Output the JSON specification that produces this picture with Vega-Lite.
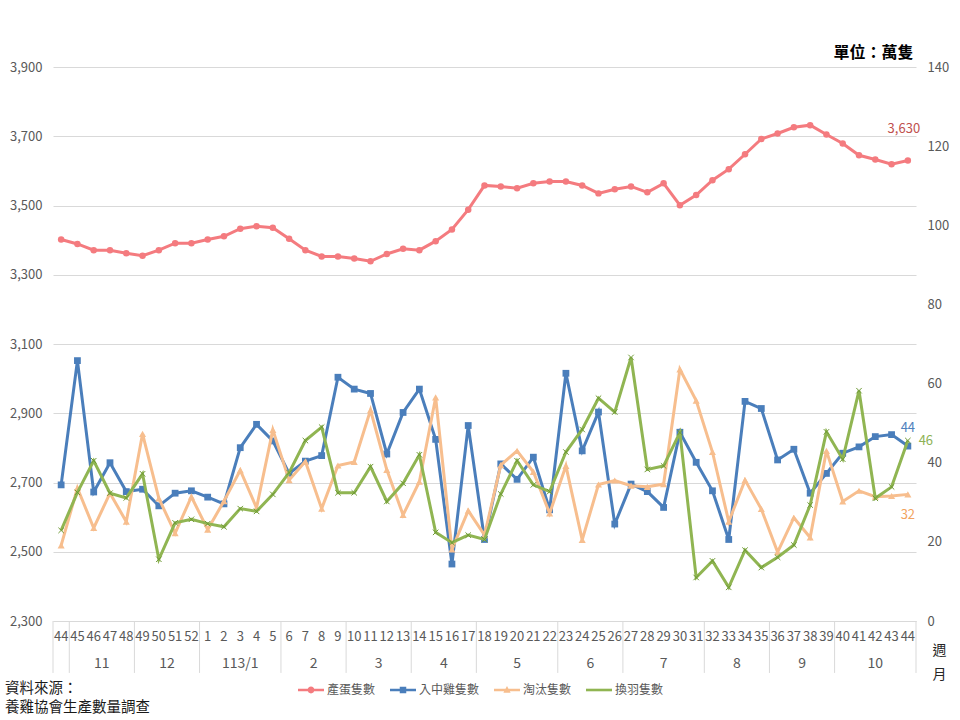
{
 "$schema": "https://vega.github.io/schema/vega-lite/v6.json",
 "width": 863,
 "height": 554,
 "autosize": {"type": "none"},
 "padding": {"left": 53, "top": 67, "right": 44, "bottom": 99},
 "background": "white",
 "config": {"view": {"stroke": null}, "font": "Noto Sans CJK TC"},
 "title": {"text": ["資料來源：", "養雞協會生產數量調查"], "orient": "bottom", "anchor": "start", "frame": "group", "fontSize": 14.5, "fontWeight": "normal", "color": "#1a1a1a", "font": "Noto Sans CJK TC", "lineHeight": 19, "dx": -48, "offset": -14},
 "datasets": {
  "main": [
   {"k":"112/44","egg":3402,"chick":34.4,"cull":19.1,"molt":22.9},
   {"k":"112/45","egg":3389,"chick":65.8,"cull":33.6,"molt":32.5},
   {"k":"112/46","egg":3371,"chick":32.6,"cull":23.5,"molt":40.5},
   {"k":"112/47","egg":3371,"chick":40.0,"cull":32.3,"molt":32.3},
   {"k":"112/48","egg":3362,"chick":32.7,"cull":25.1,"molt":31.1},
   {"k":"112/49","egg":3355,"chick":33.3,"cull":47.3,"molt":37.2},
   {"k":"112/50","egg":3371,"chick":29.1,"cull":31.0,"molt":15.6},
   {"k":"112/51","egg":3391,"chick":32.3,"cull":22.2,"molt":24.8},
   {"k":"112/52","egg":3391,"chick":32.9,"cull":31.4,"molt":25.7},
   {"k":"113/01","egg":3402,"chick":31.3,"cull":23.1,"molt":24.6},
   {"k":"113/02","egg":3411,"chick":29.6,"cull":30.3,"molt":23.8},
   {"k":"113/03","egg":3433,"chick":43.8,"cull":38.1,"molt":28.4},
   {"k":"113/04","egg":3440,"chick":49.7,"cull":28.6,"molt":27.7},
   {"k":"113/05","egg":3436,"chick":45.5,"cull":48.3,"molt":32.0},
   {"k":"113/06","egg":3404,"chick":37.3,"cull":35.6,"molt":37.5},
   {"k":"113/07","egg":3371,"chick":40.4,"cull":40.3,"molt":45.6},
   {"k":"113/08","egg":3353,"chick":41.8,"cull":28.4,"molt":49.0},
   {"k":"113/09","egg":3353,"chick":61.6,"cull":39.3,"molt":32.4},
   {"k":"113/10","egg":3347,"chick":58.6,"cull":40.2,"molt":32.4},
   {"k":"113/11","egg":3339,"chick":57.5,"cull":53.3,"molt":39.0},
   {"k":"113/12","egg":3360,"chick":42.2,"cull":38.2,"molt":30.2},
   {"k":"113/13","egg":3375,"chick":52.7,"cull":26.8,"molt":34.8},
   {"k":"113/14","egg":3371,"chick":58.6,"cull":35.2,"molt":42.0},
   {"k":"113/15","egg":3397,"chick":45.9,"cull":56.5,"molt":22.4},
   {"k":"113/16","egg":3431,"chick":14.4,"cull":18.1,"molt":19.8},
   {"k":"113/17","egg":3488,"chick":49.4,"cull":27.9,"molt":21.7},
   {"k":"113/18","egg":3558,"chick":20.6,"cull":21.7,"molt":20.6},
   {"k":"113/19","egg":3555,"chick":39.7,"cull":39.4,"molt":32.1},
   {"k":"113/20","egg":3550,"chick":35.8,"cull":43.0,"molt":40.5},
   {"k":"113/21","egg":3564,"chick":41.4,"cull":37.7,"molt":34.4},
   {"k":"113/22","egg":3569,"chick":28.1,"cull":27.2,"molt":32.7},
   {"k":"113/23","egg":3569,"chick":62.6,"cull":39.2,"molt":42.7},
   {"k":"113/24","egg":3558,"chick":43.0,"cull":20.5,"molt":48.4},
   {"k":"113/25","egg":3535,"chick":52.8,"cull":34.5,"molt":56.3},
   {"k":"113/26","egg":3547,"chick":24.5,"cull":35.5,"molt":52.8},
   {"k":"113/27","egg":3555,"chick":34.6,"cull":34.2,"molt":66.6},
   {"k":"113/28","egg":3538,"chick":32.7,"cull":33.9,"molt":38.3},
   {"k":"113/29","egg":3564,"chick":28.7,"cull":34.6,"molt":39.2},
   {"k":"113/30","egg":3501,"chick":47.7,"cull":63.6,"molt":47.6},
   {"k":"113/31","egg":3530,"chick":40.1,"cull":55.7,"molt":11.0},
   {"k":"113/32","egg":3573,"chick":32.9,"cull":42.7,"molt":15.2},
   {"k":"113/33","egg":3605,"chick":20.6,"cull":25.1,"molt":8.5},
   {"k":"113/34","egg":3648,"chick":55.5,"cull":35.6,"molt":17.9},
   {"k":"113/35","egg":3692,"chick":53.7,"cull":28.3,"molt":13.5},
   {"k":"113/36","egg":3708,"chick":40.7,"cull":17.4,"molt":16.1},
   {"k":"113/37","egg":3726,"chick":43.4,"cull":26.1,"molt":19.2},
   {"k":"113/38","egg":3732,"chick":32.3,"cull":21.1,"molt":29.3},
   {"k":"113/39","egg":3705,"chick":37.3,"cull":43.0,"molt":47.8},
   {"k":"113/40","egg":3679,"chick":42.4,"cull":30.2,"molt":40.9},
   {"k":"113/41","egg":3645,"chick":44.0,"cull":32.9,"molt":58.2},
   {"k":"113/42","egg":3633,"chick":46.6,"cull":31.4,"molt":31.0},
   {"k":"113/43","egg":3619,"chick":47.1,"cull":31.6,"molt":33.9},
   {"k":"113/44","egg":3630,"chick":44.2,"cull":32.0,"molt":45.6}
  ],
  "seps": [
   {"k":"112/44","side":"s"},{"k":"112/45","side":"s"},{"k":"112/49","side":"s"},{"k":"113/01","side":"s"},
   {"k":"113/06","side":"s"},{"k":"113/10","side":"s"},{"k":"113/14","side":"s"},{"k":"113/18","side":"s"},
   {"k":"113/23","side":"s"},{"k":"113/27","side":"s"},{"k":"113/32","side":"s"},{"k":"113/36","side":"s"},
   {"k":"113/40","side":"s"},{"k":"113/44","side":"e"}
  ],
  "months": [
   {"k":"112/47","label":"11","weeks":4},{"k":"112/51","label":"12","weeks":4},
   {"k":"113/03","label":"113/1","weeks":5},{"k":"113/08","label":"2","weeks":4},
   {"k":"113/12","label":"3","weeks":4},{"k":"113/16","label":"4","weeks":4},
   {"k":"113/20","label":"5","weeks":5},{"k":"113/25","label":"6","weeks":4},
   {"k":"113/29","label":"7","weeks":5},{"k":"113/34","label":"8","weeks":4},
   {"k":"113/38","label":"9","weeks":4},{"k":"113/42","label":"10","weeks":5}
  ]
 },
 "data": {"name": "main"},
 "resolve": {"scale": {"y": "independent"}},
 "layer": [
  {
   "layer": [
    {
     "mark": {"type": "line", "strokeWidth": 3},
     "encoding": {
      "x": {"field": "k", "type": "ordinal", "bandPosition": 0.5, "scale": {"type": "band", "paddingInner": 0, "paddingOuter": 0},
       "axis": {"title": ["週", "月"], "titleX": 886, "titleY": 22, "titleAngle": 0, "titleAlign": "center", "titleBaseline": "top", "titleFontSize": 14, "titleFontWeight": "normal", "titleColor": "#262626", "titleLineHeight": 24, "titleFont": "Noto Sans CJK TC",
        "labelExpr": "'' + toNumber(split(datum.value, '/')[1])", "labelAngle": 0, "labelFontSize": 13, "labelColor": "#595959", "labelPadding": 9, "labelFont": "Noto Sans CJK TC",
        "ticks": false, "domain": true, "domainColor": "#d9d9d9", "grid": false, "labelOverlap": false, "labelBound": false, "orient": "bottom"}},
      "y": {"field": "egg", "type": "quantitative", "scale": {"domain": [2300, 3900], "nice": false, "zero": false},
       "axis": {"orient": "left", "values": [2300, 2500, 2700, 2900, 3100, 3300, 3500, 3700, 3900], "labelExpr": "format(datum.value, ',')", "grid": true, "gridColor": "#d9d9d9", "ticks": false, "domain": false, "labelFontSize": 13, "labelColor": "#595959", "labelPadding": 11, "labelFont": "Noto Sans CJK TC", "title": null}},
      "color": {"datum": "產蛋隻數", "type": "nominal",
       "scale": {"domain": ["產蛋隻數", "入中雞隻數", "淘汰隻數", "換羽隻數"], "range": ["#F47B7F", "#4A7EBB", "#F7BE8E", "#90B552"]},
       "legend": {"orient": "none", "legendX": 245, "legendY": 610, "direction": "horizontal", "title": null, "symbolSize": 676,
        "labelFontSize": 12, "labelColor": "#595959", "labelOffset": 3, "columnPadding": 14, "labelFont": "Noto Sans CJK TC", "padding": 0,
        "encode": {"symbols": {"update": {
         "shape": {"signal": "datum.value === '產蛋隻數' ? 'M-1,-0.1L1,-0.1L1,0.1L-1,0.1Z M0.26,0A0.26,0.26 0 1,1 -0.26,0A0.26,0.26 0 1,1 0.26,0Z' : datum.value === '入中雞隻數' ? 'M-1,-0.1L1,-0.1L1,0.1L-1,0.1Z M-0.25,-0.25L0.25,-0.25L0.25,0.25L-0.25,0.25Z' : datum.value === '淘汰隻數' ? 'M-1,-0.1L1,-0.1L1,0.1L-1,0.1Z M0,-0.3L0.28,0.22L-0.28,0.22Z' : 'M-1,-0.1L1,-0.1L1,0.1L-1,0.1Z'"},
         "fill": {"scale": "color", "field": "value"},
         "strokeWidth": {"value": 0},
         "opacity": {"value": 1},
         "fillOpacity": {"value": 1}
        }}}
       }}
     }
    },
    {
     "data": {"name": "seps"},
     "transform": [{"filter": "datum.side == 's'"}],
     "mark": {"type": "rule", "color": "#d9d9d9", "strokeWidth": 1},
     "encoding": {
      "x": {"field": "k", "type": "ordinal", "bandPosition": 0, "scale": {"type": "band", "paddingInner": 0, "paddingOuter": 0}},
      "y": {"datum": 2300, "type": "quantitative", "scale": {"domain": [2300, 3900], "nice": false, "zero": false}},
      "y2": {"datum": 2150}
     }
    },
    {
     "data": {"name": "seps"},
     "transform": [{"filter": "datum.side == 'e'"}],
     "mark": {"type": "rule", "color": "#d9d9d9", "strokeWidth": 1},
     "encoding": {
      "x": {"field": "k", "type": "ordinal", "bandPosition": 1, "scale": {"type": "band", "paddingInner": 0, "paddingOuter": 0}},
      "y": {"datum": 2300, "type": "quantitative", "scale": {"domain": [2300, 3900], "nice": false, "zero": false}},
      "y2": {"datum": 2150}
     }
    },
    {
     "data": {"name": "months"},
     "transform": [{"filter": "datum.weeks == 4"}],
     "mark": {"type": "text", "fontSize": 14, "color": "#595959", "baseline": "middle", "align": "center"},
     "encoding": {
      "x": {"field": "k", "type": "ordinal", "bandPosition": 0, "scale": {"type": "band", "paddingInner": 0, "paddingOuter": 0}},
      "y": {"datum": 2176, "type": "quantitative", "scale": {"domain": [2300, 3900], "nice": false, "zero": false}},
      "text": {"field": "label"}
     }
    },
    {
     "data": {"name": "months"},
     "transform": [{"filter": "datum.weeks == 5"}],
     "mark": {"type": "text", "fontSize": 14, "color": "#595959", "baseline": "middle", "align": "center"},
     "encoding": {
      "x": {"field": "k", "type": "ordinal", "bandPosition": 0.5, "scale": {"type": "band", "paddingInner": 0, "paddingOuter": 0}},
      "y": {"datum": 2176, "type": "quantitative", "scale": {"domain": [2300, 3900], "nice": false, "zero": false}},
      "text": {"field": "label"}
     }
    },
    {
     "mark": {"type": "point", "shape": "circle", "filled": true, "size": 42, "opacity": 1, "color": "#F47B7F"},
     "encoding": {
      "x": {"field": "k", "type": "ordinal", "bandPosition": 0.5, "scale": {"type": "band", "paddingInner": 0, "paddingOuter": 0}},
      "y": {"field": "egg", "type": "quantitative", "scale": {"domain": [2300, 3900], "nice": false, "zero": false}}
     }
    },
    {
     "transform": [{"filter": "datum.k == '113/44'"}],
     "mark": {"type": "text", "color": "#C0504D", "fontSize": 13, "dx": -4, "dy": -31, "align": "center", "baseline": "middle"},
     "encoding": {
      "x": {"field": "k", "type": "ordinal", "bandPosition": 0.5, "scale": {"type": "band", "paddingInner": 0, "paddingOuter": 0}},
      "y": {"field": "egg", "type": "quantitative", "scale": {"domain": [2300, 3900], "nice": false, "zero": false}},
      "text": {"field": "egg", "format": ","}
     }
    }
   ]
  },
  {
   "layer": [
    {
     "mark": {"type": "line", "strokeWidth": 3},
     "encoding": {
      "x": {"field": "k", "type": "ordinal", "bandPosition": 0.5, "scale": {"type": "band", "paddingInner": 0, "paddingOuter": 0}},
      "y": {"field": "chick", "type": "quantitative", "scale": {"domain": [0, 140], "nice": false, "zero": true},
       "axis": {"orient": "right", "values": [0, 20, 40, 60, 80, 100, 120, 140], "labelExpr": "format(datum.value, 'd')", "grid": false, "ticks": false, "domain": false, "labelFontSize": 13, "labelColor": "#595959", "labelPadding": 11, "labelFont": "Noto Sans CJK TC",
        "title": "單位：萬隻", "titleAngle": 0, "titleX": -43, "titleY": -15, "titleAlign": "center", "titleBaseline": "middle", "titleFontSize": 16, "titleFontWeight": "bold", "titleColor": "#000000", "titleFont": "Noto Sans CJK TC"}},
      "color": {"datum": "入中雞隻數", "type": "nominal"}
     }
    },
    {
     "mark": {"type": "point", "shape": "square", "filled": true, "size": 46, "opacity": 1, "color": "#4A7EBB"},
     "encoding": {
      "x": {"field": "k", "type": "ordinal", "bandPosition": 0.5, "scale": {"type": "band", "paddingInner": 0, "paddingOuter": 0}},
      "y": {"field": "chick", "type": "quantitative", "scale": {"domain": [0, 140], "nice": false, "zero": true}}
     }
    },
    {
     "mark": {"type": "line", "strokeWidth": 3},
     "encoding": {
      "x": {"field": "k", "type": "ordinal", "bandPosition": 0.5, "scale": {"type": "band", "paddingInner": 0, "paddingOuter": 0}},
      "y": {"field": "cull", "type": "quantitative", "scale": {"domain": [0, 140], "nice": false, "zero": true}},
      "color": {"datum": "淘汰隻數", "type": "nominal"}
     }
    },
    {
     "mark": {"type": "point", "shape": "triangle-up", "filled": true, "size": 50, "opacity": 1, "color": "#F7BE8E"},
     "encoding": {
      "x": {"field": "k", "type": "ordinal", "bandPosition": 0.5, "scale": {"type": "band", "paddingInner": 0, "paddingOuter": 0}},
      "y": {"field": "cull", "type": "quantitative", "scale": {"domain": [0, 140], "nice": false, "zero": true}}
     }
    },
    {
     "mark": {"type": "line", "strokeWidth": 3},
     "encoding": {
      "x": {"field": "k", "type": "ordinal", "bandPosition": 0.5, "scale": {"type": "band", "paddingInner": 0, "paddingOuter": 0}},
      "y": {"field": "molt", "type": "quantitative", "scale": {"domain": [0, 140], "nice": false, "zero": true}},
      "color": {"datum": "換羽隻數", "type": "nominal"}
     }
    },
    {
     "mark": {"type": "point", "shape": "M-1,-1L1,1M-1,1L1,-1", "filled": false, "size": 30, "strokeWidth": 1, "opacity": 1, "color": "#6E9A35"},
     "encoding": {
      "x": {"field": "k", "type": "ordinal", "bandPosition": 0.5, "scale": {"type": "band", "paddingInner": 0, "paddingOuter": 0}},
      "y": {"field": "molt", "type": "quantitative", "scale": {"domain": [0, 140], "nice": false, "zero": true}}
     }
    },
    {
     "transform": [{"filter": "datum.k == '113/44'"}],
     "mark": {"type": "text", "color": "#4F81BD", "fontSize": 13, "dy": -18, "align": "center", "baseline": "middle"},
     "encoding": {
      "x": {"field": "k", "type": "ordinal", "bandPosition": 0.5, "scale": {"type": "band", "paddingInner": 0, "paddingOuter": 0}},
      "y": {"field": "chick", "type": "quantitative", "scale": {"domain": [0, 140], "nice": false, "zero": true}},
      "text": {"field": "chick", "format": ".0f"}
     }
    },
    {
     "transform": [{"filter": "datum.k == '113/44'"}],
     "mark": {"type": "text", "color": "#F2A35E", "fontSize": 13, "dy": 21, "align": "center", "baseline": "middle"},
     "encoding": {
      "x": {"field": "k", "type": "ordinal", "bandPosition": 0.5, "scale": {"type": "band", "paddingInner": 0, "paddingOuter": 0}},
      "y": {"field": "cull", "type": "quantitative", "scale": {"domain": [0, 140], "nice": false, "zero": true}},
      "text": {"field": "cull", "format": ".0f"}
     }
    },
    {
     "transform": [{"filter": "datum.k == '113/44'"}],
     "mark": {"type": "text", "color": "#8DB255", "fontSize": 13, "dx": 18, "align": "center", "baseline": "middle"},
     "encoding": {
      "x": {"field": "k", "type": "ordinal", "bandPosition": 0.5, "scale": {"type": "band", "paddingInner": 0, "paddingOuter": 0}},
      "y": {"field": "molt", "type": "quantitative", "scale": {"domain": [0, 140], "nice": false, "zero": true}},
      "text": {"field": "molt", "format": ".0f"}
     }
    }
   ]
  }
 ]
}
